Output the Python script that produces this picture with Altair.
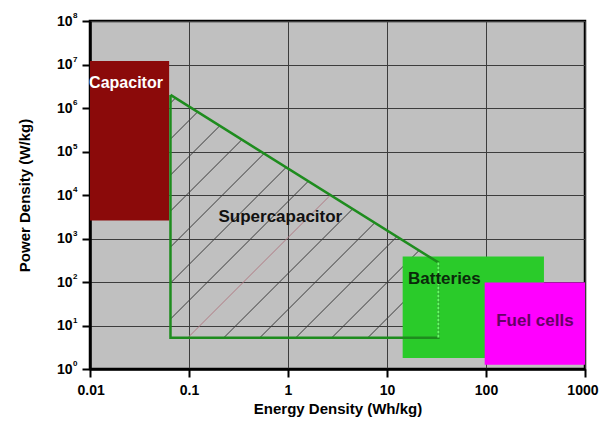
import altair as alt
import pandas as pd
import numpy as np

# ---- data ----
region_names = ["Capacitor", "Batteries", "Fuel cells"]
region_x1 = [0.01, 14.4, 97]
region_x2 = [0.063, 385, 1000]
region_y1 = [2.6e3, 1.8, 1.25]
region_y2 = [1.2e7, 385, 97]
region_colors = ["#8B0A0A", "#2ACB2A", "#FF00FF"]

# supercapacitor outline (closed polygon)
sc_x = [0.065, 33, 33, 0.065, 0.065]
sc_y = [2.0e6, 280, 5.2, 5.2, 2.0e6]

label_text = ["Capacitor", "Supercapacitor", "Batteries", "Fuel cells"]
label_x = [0.0231, 0.837, 38, 312]
label_y = [3.7e6, 3050, 120, 12.9]
label_color = ["#FFFFFF", "#111111", "#0A2A0A", "#660066"]
label_size = [16, 17, 17, 17]

x_ticks = [0.01, 0.1, 1, 10, 100, 1000]
y_ticks = [1, 10, 100, 1e3, 1e4, 1e5, 1e6, 1e7, 1e8]
y_exponents = ["0", "1", "2", "3", "4", "5", "6", "7", "8"]

W, H = 495, 348
FONT = "Liberation Sans"

# ---- hatch pattern inside the supercapacitor polygon (decorative) ----
px_per_dec_x = W / 5.0
px_per_dec_y = H / 8.0
poly = list(zip(np.log10(sc_x[:4]), np.log10(sc_y[:4])))
hatch_rows = []
start = np.log10(0.097)
step = 36 / px_per_dec_x
d = np.array([1 / px_per_dec_x, 1 / px_per_dec_y])
for i in range(-10, 14):
    p0 = np.array([start + i * step, np.log10(sc_y[2])])
    ts = []
    for j in range(4):
        a = np.array(poly[j]); b = np.array(poly[(j + 1) % 4])
        e = b - a
        m = np.array([[d[0], -e[0]], [d[1], -e[1]]])
        if abs(np.linalg.det(m)) < 1e-12:
            continue
        t, s = np.linalg.solve(m, a - p0)
        if -1e-9 <= s <= 1 + 1e-9:
            ts.append(t)
    if len(ts) >= 2:
        t0, t1 = min(ts), max(ts)
        if t1 - t0 > 1e-6:
            q0 = p0 + t0 * d; q1 = p0 + t1 * d
            hatch_rows.append({"x": 10 ** q0[0], "y": 10 ** q0[1],
                               "x2": 10 ** q1[0], "y2": 10 ** q1[1],
                               "c": "#B07A84" if i == 0 else "#3A3A3A"})
hatch_df = pd.DataFrame(hatch_rows)

regions = pd.DataFrame({"name": region_names, "x1": region_x1, "x2": region_x2,
                        "y1": region_y1, "y2": region_y2, "color": region_colors})
sc_df = pd.DataFrame({"x": sc_x, "y": sc_y, "o": list(range(len(sc_x)))})
labels = pd.DataFrame({"t": label_text, "x": label_x, "y": label_y, "c": label_color, "s": label_size})
sup_df = pd.DataFrame({"y": y_ticks, "e": y_exponents})

xscale = alt.Scale(type="log", domain=[0.01, 1000], nice=False)
yscale = alt.Scale(type="log", domain=[1, 1e8], nice=False)

xax = alt.Axis(values=x_ticks, title="Energy Density (Wh/kg)",
               labelExpr="datum.value < 1 ? format(datum.value, '.2~f') : format(datum.value, 'd')",
               labelFlush=True, labelFlushOffset=13,
               grid=True, gridColor="#3C3C3C", gridWidth=1, gridOpacity=1,
               domainColor="black", domainWidth=2.5, tickColor="black", tickWidth=2, tickSize=8,
               labelFont=FONT, labelFontSize=14, labelFontWeight="bold", labelColor="black", labelPadding=6,
               titleFont=FONT, titleFontSize=15, titleFontWeight="bold", titleColor="black", titlePadding=4)
yax = alt.Axis(values=y_ticks, title="Power Density (W/kg)",
               labelExpr="'10'", labelFlush=False,
               grid=True, gridColor="#3C3C3C", gridWidth=1, gridOpacity=1,
               domainColor="black", domainWidth=2.5, tickColor="black", tickWidth=2, tickSize=8,
               labelFont=FONT, labelFontSize=14, labelFontWeight="bold", labelColor="black", labelPadding=10,
               labelBaseline="middle",
               titleFont=FONT, titleFontSize=15, titleFontWeight="bold", titleColor="black", titlePadding=24)

cap = alt.Chart(regions[regions.name == "Capacitor"]).mark_rect(color=region_colors[0]).encode(
    x=alt.X("x1:Q", scale=xscale, axis=xax), x2="x2:Q",
    y=alt.Y("y1:Q", scale=yscale, axis=yax), y2="y2:Q")

hatch = alt.Chart(hatch_df).mark_rule(strokeWidth=1).encode(
    x=alt.X("x:Q", scale=xscale), y=alt.Y("y:Q", scale=yscale),
    x2="x2:Q", y2="y2:Q", color=alt.Color("c:N", scale=None))

bat = alt.Chart(regions[regions.name == "Batteries"]).mark_rect(color=region_colors[1]).encode(
    x=alt.X("x1:Q", scale=xscale), x2="x2:Q", y=alt.Y("y1:Q", scale=yscale), y2="y2:Q")

outline = alt.Chart(sc_df).mark_line(color="#1E8C1E", strokeWidth=2.5).encode(
    x=alt.X("x:Q", scale=xscale), y=alt.Y("y:Q", scale=yscale), order="o:Q")

right_edge = alt.Chart(sc_df.iloc[1:3]).mark_line(color="#66FF66", strokeWidth=2, strokeDash=[3, 1]).encode(
    x=alt.X("x:Q", scale=xscale), y=alt.Y("y:Q", scale=yscale), order="o:Q")

fuel = alt.Chart(regions[regions.name == "Fuel cells"]).mark_rect(color=region_colors[2]).encode(
    x=alt.X("x1:Q", scale=xscale), x2="x2:Q", y=alt.Y("y1:Q", scale=yscale), y2="y2:Q")

txt = alt.Chart(labels).mark_text(font=FONT, fontWeight="bold").encode(
    x=alt.X("x:Q", scale=xscale), y=alt.Y("y:Q", scale=yscale), text="t:N",
    color=alt.Color("c:N", scale=None), size=alt.Size("s:Q", scale=None))

sup = alt.Chart(sup_df).mark_text(font=FONT, fontSize=8, fontWeight="bold", color="black",
                                  align="left", baseline="middle", dy=-5).encode(
    x=alt.value(-17), y=alt.Y("y:Q", scale=yscale), text="e:N")

chart = alt.layer(cap, hatch, bat, outline, right_edge, fuel, txt, sup).properties(
    width=W, height=H,
    autosize=alt.AutoSizeParams(type="none"),
    padding={"left": 82, "top": 13, "right": 14, "bottom": 53},
    background="white",
).configure_view(fill="#C0C0C0", stroke="black", strokeWidth=2.5)

chart.save("out.html", embed_options={"renderer": "svg", "actions": False})
